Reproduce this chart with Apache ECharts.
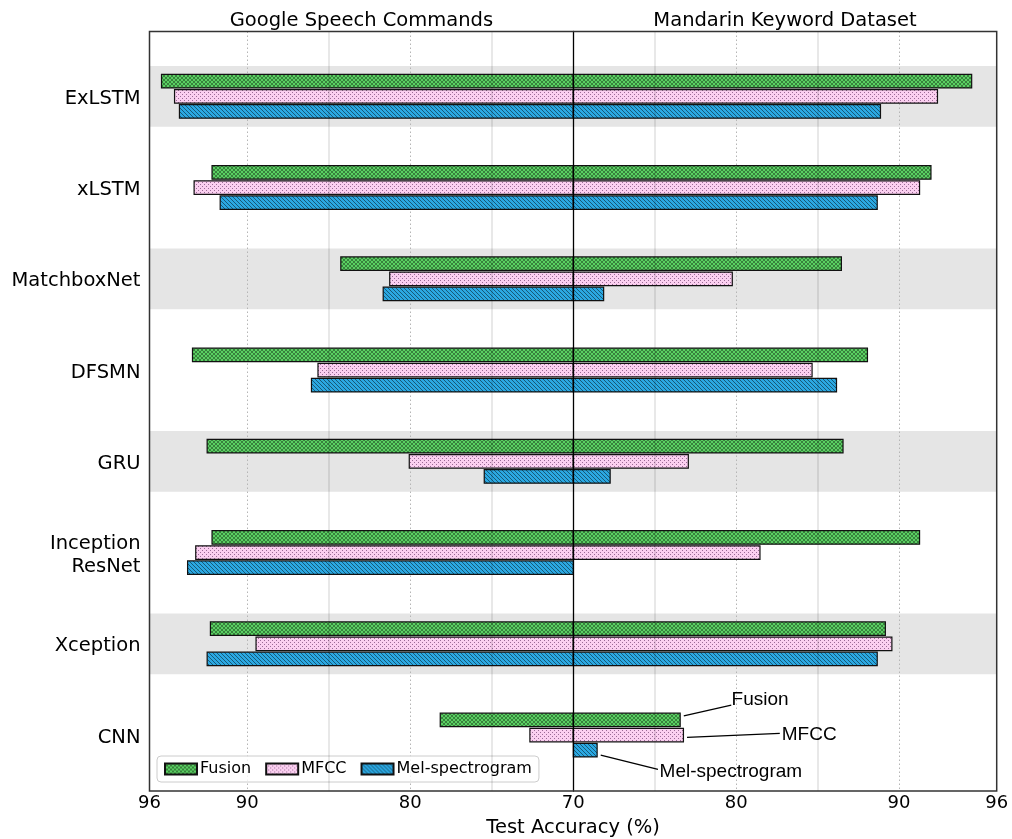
<!DOCTYPE html>
<html>
<head>
<meta charset="utf-8">
<script src="https://cdn.jsdelivr.net/npm/echarts@6/dist/echarts.min.js"></script>
<style>html,body{margin:0;padding:0;background:#fff;}#main{width:1012px;height:839px;}</style>
</head>
<body>
<div id="main"></div>
<script>
// ---- data ----
const categories = ['ExLSTM', 'xLSTM', 'MatchboxNet', 'DFSMN', 'GRU', 'Inception\nResNet', 'Xception', 'CNN'];
const seriesNames = ['Fusion', 'MFCC', 'Mel-spectrogram'];
// Google Speech Commands (left half)
const gscFusion = [95.3, 92.2, 84.3, 93.4, 92.5, 92.2, 92.3, 78.2];
const gscMFCC   = [94.5, 93.3, 81.3, 85.7, 80.1, 93.2, 89.5, 72.7];
const gscMel    = [94.2, 91.7, 81.7, 86.1, 75.5, 93.7, 92.5, 70.0];
// Mandarin Keyword Dataset (right half)
const mkdFusion = [94.5, 92.0, 86.5, 88.1, 86.6, 91.3, 89.2, 76.6];
const mkdMFCC   = [92.4, 91.3, 79.8, 84.7, 77.1, 81.5, 89.6, 76.8];
const mkdMel    = [88.9, 88.7, 71.9, 86.2, 72.3, 70.0, 88.7, 71.5];
// axis
const axisMin = 70, axisMax = 96, tickStep = 10;
const minorLines = [75, 85];
const panelTitles = ['Google Speech Commands', 'Mandarin Keyword Dataset'];
const xAxisTitle = 'Test Accuracy (%)';

// ---- hatch patterns ----
function makePattern(kind, base) {
  const s = 4;
  const c = document.createElement('canvas');
  c.width = s; c.height = s;
  const g = c.getContext('2d');
  g.fillStyle = base; g.fillRect(0, 0, s, s);
  if (kind === 'cross' || kind === 'back') {
    g.strokeStyle = kind === 'cross' ? 'rgba(0,0,0,0.5)' : 'rgba(0,0,0,0.55)';
    g.lineWidth = kind === 'cross' ? 0.75 : 0.85;
    for (const o of [-s, 0, s]) {
      g.beginPath(); g.moveTo(o, 0); g.lineTo(o + s, s); g.stroke();
      if (kind === 'cross') { g.beginPath(); g.moveTo(o + s, 0); g.lineTo(o, s); g.stroke(); }
    }
  } else if (kind === 'dots') {
    g.fillStyle = 'rgba(90,40,90,0.6)';
    g.fillRect(0, 0, 1, 1); g.fillRect(2, 2, 1, 1);
  }
  return { image: c, repeat: 'repeat' };
}
const fills = [
  makePattern('cross', '#5ad062'),
  makePattern('dots', '#fbcff0'),
  makePattern('back', '#2ba8e2')
];

// ---- layout ----
const FL = 149.5, FT = 31.5, FW = 847.2, FH = 759.5, MID = 573.3;
const BT = 50.7, BH = 730;
const font = 'DejaVu Sans';

const hiddenVal = (grid, extra) => Object.assign({ type: 'value', gridIndex: grid, min: 0, max: 1, show: false }, extra || {});

function barSeries(name, data, k, xi, yi) {
  return {
    name: name, type: 'bar', xAxisIndex: xi, yAxisIndex: yi, data: data,
    barWidth: 14.7, barGap: '3%', z: 2,
    itemStyle: { color: fills[k], borderColor: '#111', borderWidth: 1.2 },
    emphasis: { disabled: true }
  };
}
function minorSeries(xi, yi) {
  return {
    type: 'line', xAxisIndex: xi, yAxisIndex: yi, data: [], z: 1.5, silent: true,
    markLine: {
      silent: true, symbol: ['none', 'none'], label: { show: false },
      lineStyle: { color: 'rgba(0,0,0,0.12)', width: 1.5, type: 'solid' },
      data: minorLines.map(v => ({ xAxis: v }))
    }
  };
}
const titleStyle = { fontSize: 19.5, fontWeight: 'normal', color: '#000', fontFamily: font };

const option = {
  animation: false,
  textStyle: { fontFamily: font },
  title: [
    { text: panelTitles[0], left: (FL + MID) / 2, top: 10.5, textAlign: 'center', padding: 0, textStyle: titleStyle },
    { text: panelTitles[1], left: (MID + FL + FW) / 2, top: 10.5, textAlign: 'center', padding: 0, textStyle: titleStyle },
    { text: xAxisTitle, left: FL + FW / 2, top: 817.5, textAlign: 'center', padding: 0, textStyle: titleStyle }
  ],
  grid: [
    { left: FL, top: FT, width: FW, height: FH, show: true, borderColor: '#333', borderWidth: 1.5, backgroundColor: 'transparent', z: 10 },
    { left: FL, top: FT, width: MID - FL, height: FH },
    { left: MID, top: FT, width: FL + FW - MID, height: FH },
    { left: FL, top: BT, width: FW, height: BH },
    { left: FL, top: BT, width: MID - FL, height: BH },
    { left: MID, top: BT, width: FL + FW - MID, height: BH },
    // category labels (nudged to match the reference's text baseline)
    { left: FL, top: BT + 2.5, width: MID - FL, height: BH }
  ],
  xAxis: [
    hiddenVal(0),
    { type: 'value', gridIndex: 1, inverse: true, min: axisMin, max: axisMax, interval: tickStep, z: 1.5,
      axisLine: { show: false }, axisTick: { show: false },
      axisLabel: { fontSize: 18, color: '#000', margin: 3, showMinLabel: false, fontFamily: font },
      splitLine: { show: true, lineStyle: { color: '#b5b5b5', width: 1, type: [1.5, 2.5] } } },
    { type: 'value', gridIndex: 2, min: axisMin, max: axisMax, interval: tickStep, z: 1.5,
      axisLine: { show: false }, axisTick: { show: false },
      axisLabel: { fontSize: 18, color: '#000', margin: 3, fontFamily: font },
      splitLine: { show: true, lineStyle: { color: '#b5b5b5', width: 1, type: [1.5, 2.5] } } },
    hiddenVal(3),
    { type: 'value', gridIndex: 4, inverse: true, min: axisMin, max: axisMax, show: false },
    { type: 'value', gridIndex: 5, min: axisMin, max: axisMax, show: false },
    hiddenVal(6)
  ],
  yAxis: [
    hiddenVal(0),
    hiddenVal(1),
    { type: 'value', gridIndex: 2, min: 0, max: 1, z: 5,
      axisLine: { show: true, onZero: false, lineStyle: { color: '#000', width: 1.3 } },
      axisTick: { show: false }, axisLabel: { show: false }, splitLine: { show: false } },
    { type: 'category', gridIndex: 3, data: categories, inverse: true, show: false },
    { type: 'category', gridIndex: 4, data: categories, inverse: true, show: false },
    { type: 'category', gridIndex: 5, data: categories, inverse: true, show: false },
    { type: 'category', gridIndex: 6, data: categories, inverse: true,
      axisLine: { show: false }, axisTick: { show: false }, splitLine: { show: false },
      axisLabel: { fontSize: 19.5, color: '#000', margin: 9, lineHeight: 23, fontFamily: font } }
  ],
  legend: {
    data: seriesNames, left: 157, top: 756, orient: 'horizontal',
    icon: 'rect', itemWidth: 32, itemHeight: 11, itemGap: 14,
    padding: [5, 7], borderColor: '#cccccc', borderWidth: 1, borderRadius: 4,
    backgroundColor: 'rgba(255,255,255,0.8)', selectedMode: false,
    textStyle: { fontSize: 16, color: '#000', fontFamily: font, padding: [0, 0, 0, -2] }
  },
  series: [
    { type: 'bar', xAxisIndex: 3, yAxisIndex: 3, z: 1, silent: true, barWidth: 60.7,
      data: categories.map((c, i) => (i % 2 === 0 ? 1 : '-')),
      itemStyle: { color: '#e5e5e5' } },
    minorSeries(1, 1),
    minorSeries(2, 2),
    barSeries(seriesNames[0], gscFusion, 0, 4, 4),
    barSeries(seriesNames[1], gscMFCC, 1, 4, 4),
    barSeries(seriesNames[2], gscMel, 2, 4, 4),
    barSeries(seriesNames[0], mkdFusion, 0, 5, 5),
    barSeries(seriesNames[1], mkdMFCC, 1, 5, 5),
    barSeries(seriesNames[2], mkdMel, 2, 5, 5)
  ]
};

const chart = echarts.init(document.getElementById('main'), null, { renderer: 'canvas' });
chart.setOption(option);

// ---- annotations for the CNN row (right panel) ----
const row = 'CNN';
const idx = categories.indexOf(row);
const px = v => chart.convertToPixel({ gridIndex: 5 }, [v, row]);
const cy = px(axisMin)[1];
const notes = [
  { text: seriesNames[0], bar: mkdFusion[idx], dy0: -19.3, endX: 79.7, dy1: -30, textX: 79.72, dyT: -35 },
  { text: seriesNames[1], bar: mkdMFCC[idx], dy0: 2.3, endX: 82.68, dy1: -1.7, textX: 82.8, dyT: -0.5 },
  { text: seriesNames[2], bar: mkdMel[idx], dy0: 20, endX: 75.2, dy1: 34.3, textX: 75.3, dyT: 36.5 }
];
const graphics = [];
notes.forEach(n => {
  const x0 = px(n.bar)[0] + 3;
  const x1 = px(n.endX)[0];
  const xt = px(n.textX)[0];
  graphics.push({ type: 'line', z: 20, silent: true,
    shape: { x1: x0, y1: cy + n.dy0, x2: x1, y2: cy + n.dy1 },
    style: { stroke: '#000', lineWidth: 1.3 } });
  graphics.push({ type: 'text', z: 20, silent: true, x: xt, y: cy + n.dyT,
    style: { text: n.text, fill: '#000', font: '19px "Liberation Sans", Arial, sans-serif', align: 'left', verticalAlign: 'middle' } });
});
chart.setOption({ graphic: graphics });
</script>
</body>
</html>
